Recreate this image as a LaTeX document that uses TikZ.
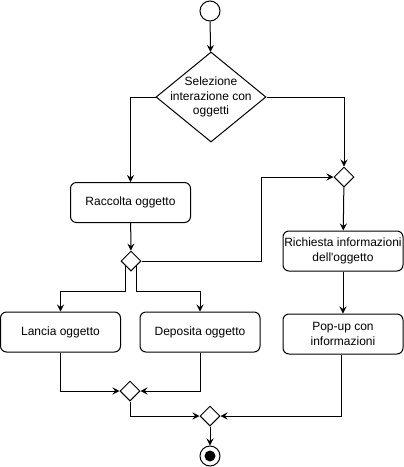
\documentclass[tikz,border=0pt]{standalone}
\usepackage{fontspec}
\setmainfont{Liberation Sans}[Ligatures=TeXOff]
\usetikzlibrary{shapes.geometric,arrows.meta,calc}
\begin{document}
\begin{tikzpicture}[x=1pt,y=-1pt,
  line width=1pt,
  every node/.style={font=\fontsize{12}{14.5}\selectfont, align=center},
  actbox/.style={draw, rounded corners=6pt, minimum width=120pt, minimum height=40pt, inner sep=1pt},
  bigdec/.style={draw, diamond, minimum width=110pt, minimum height=90pt, inner sep=0pt},
  smalldec/.style={draw, diamond, minimum width=20pt, minimum height=20pt, inner sep=0pt},
  flow/.style={-{Stealth[length=7pt,width=7pt,inset=2.5pt]}}]
\useasboundingbox (0,0) rectangle (404,467);
\node[draw, circle, minimum size=20pt, inner sep=0pt] (start) at (210,11) {};
\node[bigdec, label={center:Selezione\\interazione con\\oggetti}] (d1) at (211,97) {};
\node[actbox] (racc) at (130.5,202.5) {Raccolta oggetto};
\node[smalldec] (d3) at (131,261) {};
\node[smalldec] (d2) at (344,177) {};
\node[actbox] (rich) at (343,251) {Richiesta informazioni\\dell'oggetto};
\node[actbox] (popup) at (343,334) {Pop-up con\\informazioni};
\node[actbox] (lancia) at (60.5,332) {Lancia oggetto};
\node[actbox] (depo) at (200,332) {Deposita oggetto};
\node[smalldec] (join) at (130,391) {};
\node[smalldec] (fin) at (210,416) {};
\node[draw, circle, minimum size=20pt, inner sep=0pt] (end) at (210,456) {};
\node[fill, circle, minimum size=11pt, inner sep=0pt] (endin) at (end.center) {};

\draw[flow] (start) -- (d1);
\draw[flow] (d1.west) -| (racc.north);
\draw[flow] (d1.east) -| (d2.north);
\draw[flow] (racc) -- (d3);
\draw[flow] (d3.east) -- ++(120,0) |- (d2.west);
\draw[flow] (d2) -- (rich);
\draw[flow] (rich) -- (popup);
\draw[flow] (d3.-135) |- ($(lancia.north)+(0,-20)$) -- (lancia.north);
\draw[flow] (d3.-45) |- ($(depo.north)+(0,-20)$) -- (depo.north);
\draw[flow] (lancia.south) |- (join.west);
\draw[flow] (depo.south) |- (join.east);
\draw[flow] (join.south) |- (fin.west);
\draw[flow] (popup.south -| 341,0) |- (fin.east);
\draw[flow] (fin) -- (end);
\end{tikzpicture}
\end{document}
